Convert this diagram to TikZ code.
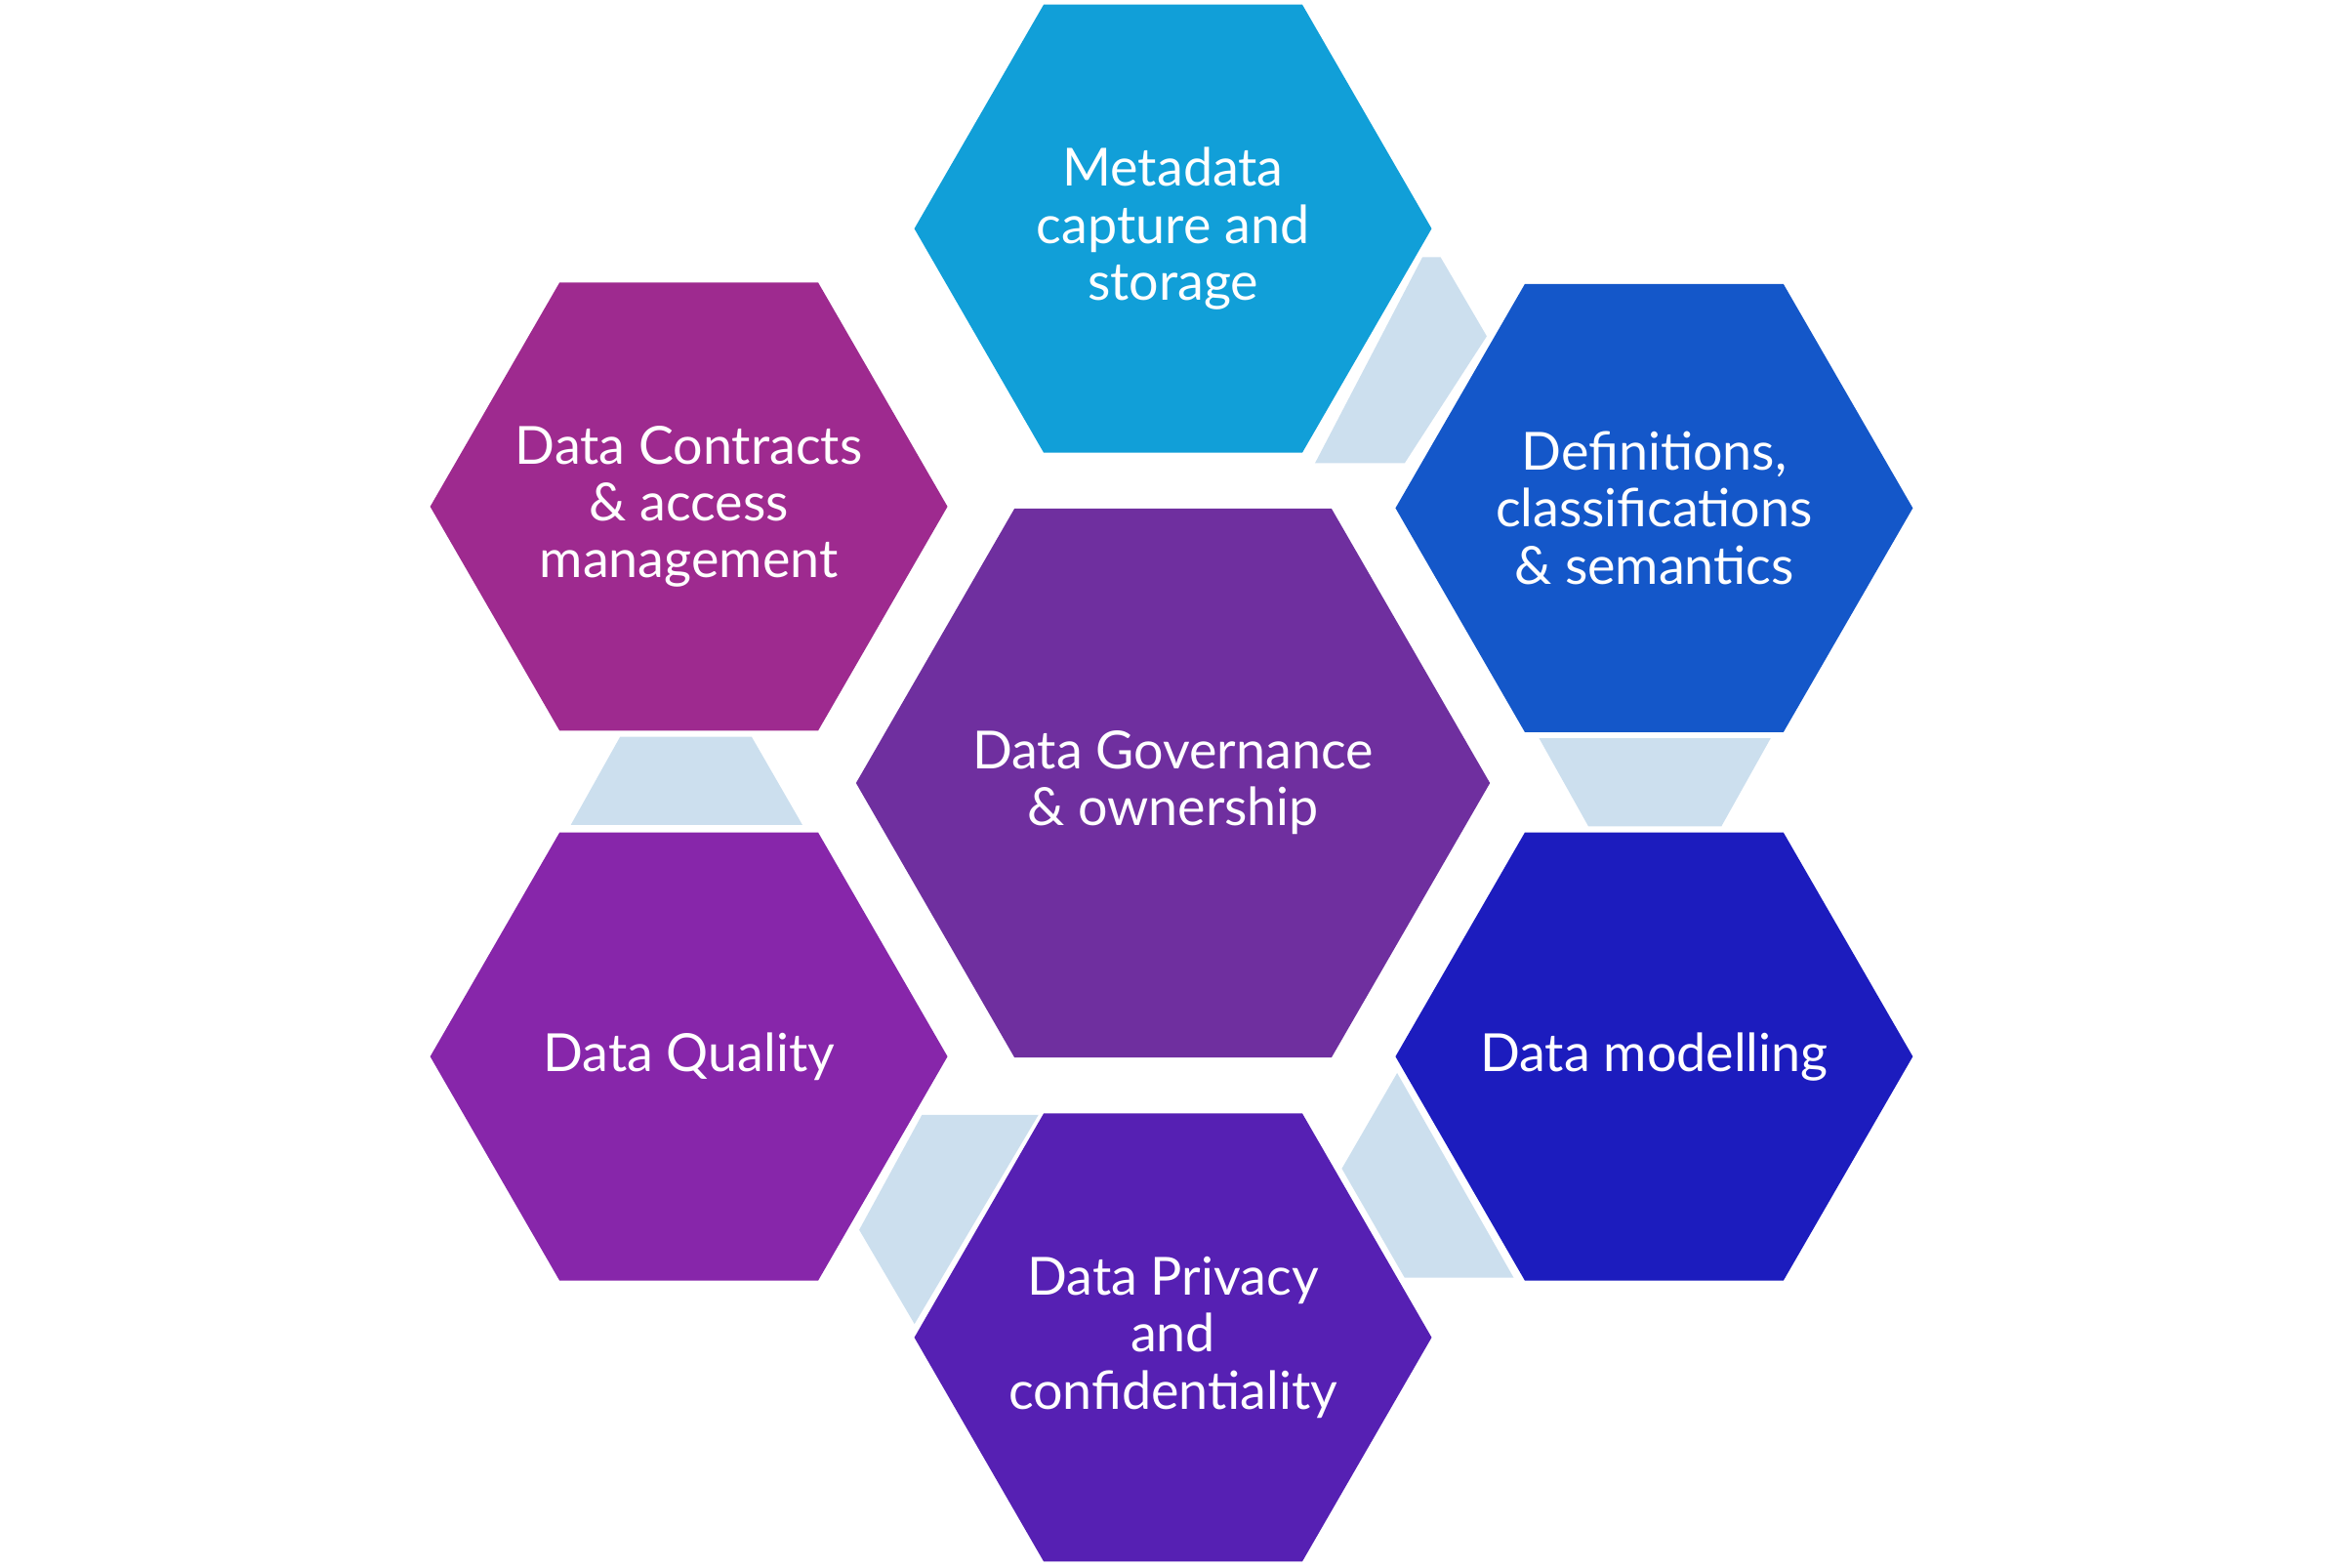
\documentclass[tikz,border=0pt]{standalone}
\usepackage{fontspec}
\setmainfont{Lato}
\usetikzlibrary{shapes.geometric}
\definecolor{cMeta}{HTML}{119FD8}
\definecolor{cDef}{HTML}{1457C9}
\definecolor{cModel}{HTML}{1C1CBE}
\definecolor{cPriv}{HTML}{5620B3}
\definecolor{cQual}{HTML}{8726AA}
\definecolor{cContr}{HTML}{9E2A8F}
\definecolor{cGov}{HTML}{6F2F9F}
\definecolor{cLink}{HTML}{CCDFEE}
\tikzset{
  hexa/.style={regular polygon,regular polygon sides=6,minimum size=3.46cm,
    inner sep=0pt},
  hextext/.style={text=white,align=center,
    font=\fontsize{10}{10.8}\selectfont},
  link/.style={fill=cLink}
}
\begin{document}
\begin{tikzpicture}[x={(0.01cm,0)},y={(0,-0.01cm)}]
\useasboundingbox (0,0) rectangle (1568,1049);
\node[hexa,fill=cMeta] (M) at (785,153) {};
\node[hextext] (Mt) at (M) {Metadata\\capture and\\storage};
\node[hexa,fill=cDef] (D) at (1107,340) {};
\node[hextext] (Dt) at (D) {Definitions,\\classifications\\\& semantics};
\node[hexa,fill=cModel] (L) at (1107,707) {};
\node[hextext] (Lt) at (L) {Data modelling};
\node[hexa,fill=cPriv] (P) at (785,895) {};
\node[hextext] (Pt) at (P) {Data Privacy\\and\\confidentiality};
\node[hexa,fill=cQual] (Q) at (461,707) {};
\node[hextext] (Qt) at (Q) {Data Quality};
\node[hexa,fill=cContr] (C) at (461,339) {};
\node[hextext] (Ct) at (C) {Data Contracts\\\& access\\management};
\node[hexa,fill=cGov,minimum size=4.24cm] (G) at (785,524) {};
\node[hextext] (Gt) at (G) {Data Governance\\\& ownership};
% links between neighbouring hexagons
\fill[link] (880,310) -- (940,310) -- (995,225) -- (964,172) -- (952,172) -- cycle;
\fill[link] (1030,494) -- (1185,494) -- (1152,553) -- (1063,553) -- cycle;
\fill[link] (898,782) -- (935,718) -- (1013,855) -- (940,855) -- cycle;
\fill[link] (617,746) -- (695,746) -- (612,886) -- (575,823) -- cycle;
\fill[link] (415,493) -- (503,493) -- (537,552) -- (382,552) -- cycle;
\end{tikzpicture}
\end{document}
